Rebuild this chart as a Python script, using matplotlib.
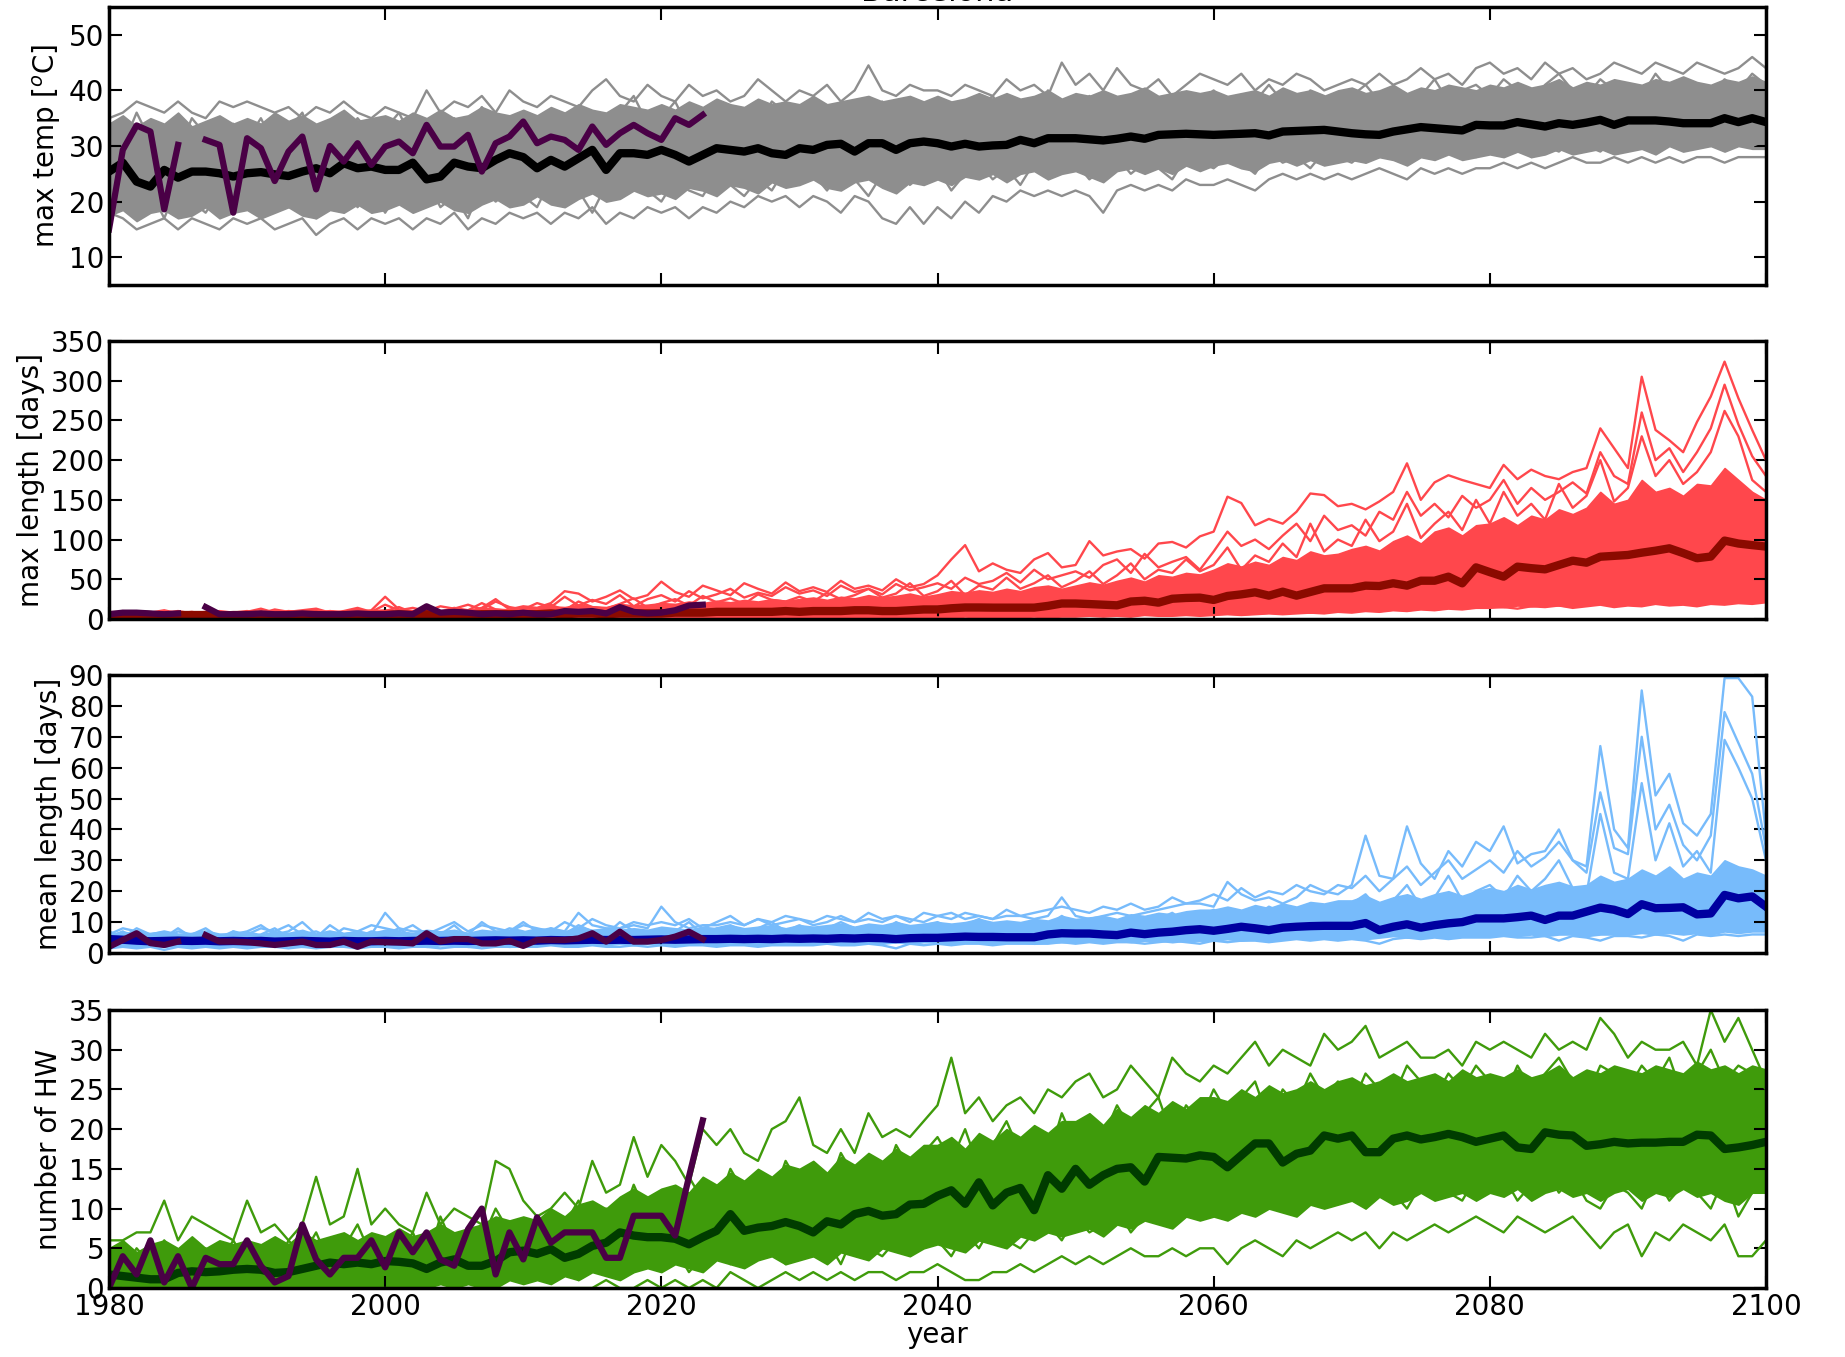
import numpy as np
import matplotlib
matplotlib.use("Agg")
import matplotlib.pyplot as plt

years = np.arange(1980, 2101)
obs_years = np.arange(1980, 2024)
nan = np.nan

# ---- panel 1: max temp ----
tmax_mean = [25.4, 27.0, 23.6, 22.7, 25.7, 24.3, 25.4, 25.4, 25.1, 24.5,
             25.1, 25.3, 24.9, 24.6, 25.4, 26.0, 25.1, 26.9, 26.0, 26.3,
             25.7, 25.7, 27.0, 24.0, 24.5, 27.0, 26.3, 26.0, 27.5, 28.7,
             28.0, 26.0, 27.5, 26.3, 27.8, 29.3, 25.7, 28.7, 28.7, 28.4,
             29.3, 28.4, 27.2, 28.4, 29.6, 29.3, 29.0, 29.6, 28.7, 28.4,
             29.6, 29.3, 30.2, 30.4, 29.0, 30.5, 30.5, 29.3, 30.5, 30.8,
             30.5, 29.9, 30.4, 29.9, 30.1, 30.2, 31.1, 30.5, 31.4, 31.4,
             31.4, 31.2, 31.0, 31.3, 31.7, 31.3, 32.0, 32.1, 32.2, 32.1,
             32.0, 32.1, 32.2, 32.3, 31.9, 32.6, 32.7, 32.8, 32.9, 32.6,
             32.3, 32.1, 32.0, 32.6, 33.0, 33.4, 33.2, 33.0, 32.8, 33.8,
             33.7, 33.7, 34.3, 33.9, 33.5, 34.1, 33.8, 34.2, 34.7, 33.8,
             34.6, 34.6, 34.6, 34.4, 34.1, 34.1, 34.1, 35.0, 34.3, 35.0,
             34.3]
tmax_obs = [15.0, 29.3, 33.7, 32.6, 18.6, 30.2, nan, 31.1, 30.2, 18.0,
            31.4, 29.6, 23.7, 29.0, 31.7, 22.2, 30.0, 27.2, 30.5, 26.6,
            29.9, 30.8, 28.7, 33.8, 29.9, 29.9, 32.0, 25.4, 30.5, 31.7,
            34.4, 30.5, 31.7, 31.1, 29.3, 33.5, 30.2, 32.3, 33.8, 32.3,
            31.1, 35.0, 33.8, 35.6]
tmax_core_lo = [17.5, 18.5, 16.5, 18, 18.5, 17, 17.5, 19, 17, 18,
                18.5, 17, 18, 19, 17.5, 17, 18.5, 18, 19.5, 18,
                18.5, 19.5, 18, 19, 20, 18.5, 18, 19.5, 20.5, 19,
                19.5, 21, 19.5, 19, 20.5, 21.5, 20, 20.5, 22, 21,
                21.5, 20.5, 22.5, 22, 21, 23, 22.5, 21.5, 23.5, 22.5,
                23, 24, 22.5, 22, 23.5, 24, 22.5, 21.5, 23.5, 23,
                24, 23, 24.5, 24, 25, 23.5, 25, 25.5, 24, 25,
                25.5, 24.5, 23.5, 25.5, 26, 25, 26, 25, 26.5, 25.5,
                26.5, 27, 26, 25.5, 27, 27.5, 26.5, 27.5, 26.5, 27,
                27.5, 27, 28, 27.5, 26.5, 28, 27.5, 28.5, 27.5, 28,
                28.5, 28, 29, 28, 28.5, 29.5, 28.5, 29, 29.5, 28.5,
                29, 29.5, 28.5, 30, 29, 29.5, 30, 29, 30, 29.5,
                29.5]
tmax_core_hi = [34, 35.5, 33.5, 35, 34, 36, 33.5, 34.5, 35.5, 34,
                35, 34, 36, 34.5, 35.5, 34, 35, 36.5, 34.5, 35,
                35.5, 34.5, 36, 35, 36.5, 35, 35.5, 37, 36, 35.5,
                36.5, 35.5, 37, 36, 37.5, 36.5, 36, 37.5, 37, 36.5,
                37.5, 36.5, 38, 37, 38.5, 37.5, 37, 38.5, 37.5, 38,
                37.5, 39, 37.5, 38, 38.5, 39, 38, 38.5, 39, 38,
                39, 38, 38.5, 39.5, 38.5, 39.5, 38.5, 39, 40, 38.5,
                39.5, 39, 40, 39, 39.5, 40.5, 39, 39.5, 40, 39.5,
                40, 39, 39.5, 40, 39, 40.5, 39.5, 40, 39, 40,
                40.5, 39.5, 40, 41, 39.5, 40.5, 40, 41, 40.5, 40,
                41, 40.5, 41.5, 40.5, 41, 42, 40.5, 41.5, 41, 42,
                41.5, 41, 42, 41.5, 42.5, 41.5, 41, 42, 41.5, 42.5,
                41.5]
tmax_hi = [35, 36, 38, 37, 36, 38, 36, 35, 38, 37,
           38, 37, 36, 37, 35, 37, 36, 38, 36, 35,
           37, 36, 35, 40, 36, 38, 37, 39, 36, 40,
           38, 37, 39, 38, 37, 40, 42, 39, 38, 41,
           39, 38, 41, 39, 40, 38, 39, 42, 40, 38,
           40, 39, 41, 38, 40, 44.5, 40, 39, 41, 40,
           40, 39, 41, 40, 39, 42, 40, 41, 39, 45,
           41, 43, 40, 44, 41, 40, 42, 39, 41, 43,
           42, 41, 43, 40, 42, 41, 43, 42, 40, 41,
           42, 41, 43, 41, 42, 44, 42, 43, 41, 44,
           45, 43, 44, 42, 45, 43, 44, 42, 43, 45,
           44, 43, 45, 44, 43, 45, 44, 43, 44, 46,
           44]
tmax_lo = [18, 17, 15, 16, 17, 15, 17, 16, 15, 17,
           16, 17, 15, 16, 17, 14, 16, 17, 15, 17,
           16, 17, 15, 17, 16, 18, 15, 17, 16, 18,
           17, 18, 16, 18, 17, 19, 16, 18, 17, 19,
           18, 19, 17, 19, 18, 20, 19, 21, 20, 21,
           19, 21, 20, 18, 21, 20, 17, 16, 19, 16,
           19, 17, 20, 18, 21, 20, 22, 21, 22, 21,
           22, 21, 18, 22, 23, 22, 23, 22, 24, 23,
           23, 24, 23, 22, 24, 25, 24, 25, 24, 25,
           24, 25, 26, 25, 24, 26, 25, 26, 25, 26,
           26, 27, 26, 27, 26, 27, 28, 27, 27, 28,
           27, 28, 27, 28, 27, 28, 28, 27, 28, 28,
           28]
tmax_a = [34, 30, 36, 31, 33, 29, 35, 32, 30, 34,
          31, 35, 30, 33, 36, 30, 34, 31, 35, 32,
          33, 36, 31, 34, 30, 35, 33, 37, 32, 34,
          36, 33, 35, 31, 37, 34, 33, 36, 39, 34,
          35, 38, 33, 36, 34, 37, 35, 33, 38, 36,
          34, 38, 35, 37, 33, 36, 38, 34, 37, 35,
          38, 36, 34, 37, 39, 35, 38, 36, 40, 37,
          36, 39, 37, 35, 38, 40, 37, 39, 36, 38,
          40, 37, 39, 38, 41, 38, 36, 40, 39, 37,
          39, 41, 38, 40, 37, 39, 42, 38, 40, 41,
          39, 42, 40, 38, 41, 43, 40, 39, 42, 40,
          41, 39, 43, 40, 42, 41, 39, 42, 40, 43,
          41]
tmax_b = [20, 24, 19, 22, 17, 23, 20, 18, 22, 19,
          23, 18, 21, 19, 24, 17, 21, 23, 19, 22,
          18, 22, 20, 24, 19, 21, 17, 23, 20, 22,
          21, 19, 24, 20, 22, 18, 23, 21, 25, 22,
          20, 24, 22, 21, 25, 23, 21, 24, 22, 26,
          23, 25, 22, 26, 24, 21, 25, 27, 23, 25,
          26, 22, 25, 27, 24, 26, 23, 27, 25, 26,
          27, 24, 26, 28, 25, 27, 26, 24, 28, 27,
          26, 28, 27, 25, 29, 27, 28, 26, 29, 28,
          27, 29, 28, 30, 27, 29, 28, 30, 29, 28,
          30, 29, 31, 28, 30, 29, 31, 30, 29, 31,
          30, 31, 29, 32, 30, 31, 30, 32, 31, 30,
          31]

# ---- panel 2: max length ----
maxlen_mean = [5, 5, 6, 5, 4, 5, 5, 5, 4, 5,
               5, 5, 4, 5, 5, 5, 4, 5, 5, 5,
               5, 6, 5, 6, 5, 6, 5, 6, 6, 6,
               6, 6, 7, 6, 7, 7, 6, 7, 7, 7,
               7, 8, 8, 8, 9, 9, 9, 9, 9, 10,
               9, 10, 10, 10, 11, 11, 10, 10, 11, 12,
               12, 13.5, 14.5, 14.5, 14.3, 14.3, 14.3, 14.3, 16.5, 19.5,
               19.5, 18.8, 18.0, 17.2, 22, 23, 20.6, 25.5, 26.5, 26.9,
               24, 29, 31, 33.6, 29.4, 34.4, 29.4, 34, 38.6, 38.6,
               38.6, 42, 41.5, 45, 42, 48.2, 48.2, 53.3, 44.9, 65,
               59, 53.3, 65.9, 64, 62.5, 68, 73.4, 70.9, 78.4, 79.5,
               80.6, 83.5, 86, 89, 83, 76.5, 78.6, 98.7, 95, 93,
               91.2]
maxlen_obs = [6, 8, 8, 7, 6, 7, nan, 15, 6, 6,
              6, 7, 6, 6, 7, 6, 6, 6, 7, 6,
              6, 7, 6, 16, 8, 9, 8, 6, 7, 6,
              8, 6, 6, 10, 9, 10, 7, 15, 9, 7,
              8, 11, 17, 18]
maxlen_core_lo = [1, 1, 1, 1, 1, 1, 1, 1, 1, 1,
                  1, 1, 1, 1, 1, 1, 1, 1, 1, 1,
                  1, 1, 1, 1, 1, 1, 1, 1, 1, 1,
                  1, 1, 2, 1, 2, 1, 2, 2, 1, 2,
                  2, 2, 3, 2, 2, 3, 2, 3, 2, 3,
                  3, 2, 3, 3, 2, 3, 3, 2, 3, 3,
                  3, 3, 4, 3, 4, 3, 4, 4, 3, 4,
                  4, 5, 4, 5, 4, 6, 5, 5, 6, 5,
                  6, 7, 6, 7, 8, 7, 9, 8, 9, 10,
                  10, 11, 10, 12, 11, 13, 12, 14, 13, 15,
                  16, 15, 17, 16, 18, 17, 16, 18, 19, 17,
                  19, 18, 21, 19, 20, 18, 21, 20, 22, 21,
                  23]
maxlen_core_hi = [8, 9, 7, 9, 8, 10, 8, 9, 7, 9,
                  9, 11, 8, 10, 9, 8, 11, 9, 10, 11,
                  12, 10, 11, 13, 10, 12, 11, 14, 13, 12,
                  14, 13, 16, 15, 18, 16, 15, 19, 17, 18,
                  20, 19, 22, 20, 23, 21, 24, 22, 25, 23,
                  25, 27, 24, 28, 26, 30, 27, 29, 32, 28,
                  31, 35, 33, 36, 34, 38, 35, 40, 42, 38,
                  42, 46, 43, 48, 52, 47, 55, 53, 58, 56,
                  62, 70, 66, 72, 68, 78, 74, 85, 80, 82,
                  88, 92, 86, 98, 105, 95, 110, 115, 105, 118,
                  120, 128, 118, 130, 125, 138, 132, 140, 160, 145,
                  150, 175, 160, 165, 155, 170, 168, 190, 175, 160,
                  150]
maxlen_hi = [8, 7, 9, 7, 8, 10, 7, 9, 8, 7,
             9, 13, 8, 10, 9, 8, 10, 8, 9, 11,
             28, 12, 10, 11, 9, 12, 10, 14, 25, 12,
             16, 14, 20, 35, 32, 22, 28, 36, 25, 30,
             47, 34, 28, 42, 36, 30, 45, 38, 32, 46,
             35, 40, 34, 48, 38, 42, 36, 50, 40, 44,
             55, 75, 93, 60, 70, 62, 58, 75, 83, 65,
             68, 98, 80, 85, 88, 76, 95, 97, 90, 104,
             110, 154, 146, 118, 126, 120, 135, 158, 156, 142,
             145, 138, 148, 160, 196, 150, 172, 181, 175, 170,
             165, 194, 176, 188, 180, 176, 185, 190, 240, 215,
             190, 305, 238, 225, 210, 248, 280, 324, 278, 238,
             200]
maxlen_lo = [0, 1, 0, 0, 1, 0, 0, 1, 0, 0,
             1, 0, 0, 1, 0, 0, 1, 0, 0, 1,
             0, 1, 0, 1, 0, 1, 1, 0, 1, 1,
             1, 0, 1, 1, 2, 1, 1, 2, 1, 1,
             2, 1, 2, 1, 2, 2, 1, 2, 2, 1,
             2, 2, 1, 2, 2, 3, 2, 2, 3, 2,
             2, 1, 3, 2, 2, 3, 2, 3, 2, 3,
             3, 4, 3, 4, 3, 5, 4, 4, 5, 4,
             5, 6, 5, 6, 7, 6, 7, 8, 7, 9,
             8, 10, 9, 11, 10, 12, 11, 13, 12, 14,
             14, 15, 13, 16, 15, 17, 14, 16, 18, 15,
             17, 16, 19, 17, 18, 16, 19, 18, 20, 19,
             21]
maxlen_a = [6, 9, 5, 7, 10, 6, 8, 5, 9, 7,
            8, 6, 10, 7, 9, 11, 6, 8, 12, 7,
            10, 15, 8, 12, 9, 14, 11, 20, 12, 10,
            14, 12, 18, 11, 22, 15, 13, 19, 26, 14,
            20, 25, 17, 29, 21, 26, 19, 31, 24, 22,
            28, 22, 33, 25, 30, 38, 27, 32, 45, 29,
            35, 48, 30, 42, 37, 52, 38, 45, 55, 40,
            48, 60, 44, 55, 70, 50, 62, 58, 75, 60,
            68, 90, 62, 80, 72, 95, 78, 120, 85, 100,
            92, 125, 98, 110, 145, 102, 120, 135, 112, 150,
            120, 160, 130, 145, 125, 170, 140, 155, 200, 148,
            165, 230, 180, 200, 170, 185, 210, 262, 230, 175,
            160]
maxlen_b = [6, 10, 5, 8, 11, 7, 9, 6, 10, 8,
            10, 7, 12, 9, 11, 13, 8, 10, 14, 9,
            18, 11, 14, 10, 16, 13, 18, 12, 22, 15,
            12, 20, 15, 28, 17, 24, 19, 30, 16, 25,
            30, 22, 35, 26, 31, 38, 27, 33, 29, 40,
            32, 36, 29, 42, 34, 38, 31, 44, 36, 40,
            45, 38, 52, 44, 48, 58, 46, 62, 50, 55,
            60, 52, 68, 75, 58, 82, 65, 72, 78, 62,
            85, 110, 92, 100, 88, 105, 120, 98, 130, 112,
            118, 105, 135, 125, 160, 130, 145, 128, 155, 140,
            150, 175, 145, 165, 150, 160, 172, 158, 210, 180,
            170, 260, 200, 215, 185, 210, 240, 295, 245, 205,
            180]

# ---- panel 3: mean length ----
meanlen_mean = [4.5, 4.3, 4.0, 3.8, 3.9, 4.0, 3.9, 4.0, 3.8, 3.9,
                3.8, 3.9, 3.7, 3.8, 3.9, 3.8, 3.7, 3.9, 3.8, 3.8,
                3.9, 3.8, 3.9, 4.0, 3.9, 4.0, 3.9, 4.0, 4.1, 4.0,
                4.1, 4.0, 4.2, 4.1, 4.2, 4.3, 4.2, 4.3, 4.2, 4.3,
                4.4, 4.3, 4.4, 4.5, 4.5, 4.6, 4.5, 4.6, 4.5, 4.7,
                4.6, 4.7, 4.6, 4.8, 4.7, 4.9, 4.8, 4.5, 4.8, 4.9,
                4.9, 5.1, 5.3, 5.2, 5.2, 5.1, 5.1, 5.1, 6.0, 6.4,
                6.3, 6.3, 6.0, 5.8, 6.6, 6.1, 6.6, 6.9, 7.4, 7.7,
                7.2, 7.8, 8.5, 8.0, 7.4, 8.2, 8.5, 8.7, 8.8, 8.8,
                8.8, 9.7, 7.4, 8.5, 9.3, 8.2, 9.0, 9.6, 10.0, 11.2,
                11.2, 11.2, 11.6, 12.1, 10.7, 12.1, 12.1, 13.4, 14.7, 14.0,
                12.6, 15.8, 14.5, 14.6, 14.8, 12.5, 12.8, 18.8, 17.7, 18.3,
                15.0]
meanlen_obs = [2.0, 4.2, 6.4, 3.2, 2.6, 3.7, nan, 5.8, 3.7, 3.7,
               3.5, 3.1, 2.6, 3.1, 3.7, 2.6, 2.6, 3.7, 2.0, 3.7,
               3.5, 3.4, 3.1, 6.4, 3.7, 4.5, 4.5, 3.1, 3.1, 3.9,
               2.3, 4.2, 4.2, 4.2, 4.7, 6.4, 3.7, 6.9, 3.7, 3.7,
               4.2, 5.3, 6.9, 4.5]
meanlen_core_lo = [2, 2.5, 2, 2.5, 2, 2.5, 2, 2.5, 2, 2.5,
                   2, 2.5, 2, 2.5, 2, 2.5, 2, 2.5, 2, 2.5,
                   2.5, 2, 2.5, 2, 2.5, 2.5, 2, 2.5, 2.5, 2,
                   2.5, 2.5, 3, 2.5, 2.5, 3, 2.5, 3, 2.5, 3,
                   3, 2.5, 3, 3, 2.5, 3, 3, 2.5, 3, 3,
                   3, 3, 3.5, 3, 3, 3.5, 3, 3.5, 3, 3.5,
                   3.5, 3, 3.5, 3.5, 3, 3.5, 3.5, 3, 3.5, 3.5,
                   3.5, 4, 3.5, 4, 3.5, 4, 4, 3.5, 4, 4,
                   4, 4.5, 4, 4.5, 4, 4.5, 5, 4.5, 5, 4.5,
                   5, 4.5, 5, 5.5, 5, 5, 5.5, 5, 5.5, 5.5,
                   5.5, 6, 5.5, 6, 5.5, 6, 6, 5.5, 6, 6,
                   6, 6.5, 6, 6.5, 6, 6.5, 6, 7, 6.5, 7,
                   7]
meanlen_core_hi = [6, 7, 6, 6.5, 7, 6, 6.5, 7, 6, 6.5,
                   7, 6, 7, 6.5, 7.5, 6, 7, 6.5, 7, 6.5,
                   7.5, 7, 6.5, 7.5, 7, 7.5, 6.5, 7.5, 7, 7.5,
                   7, 8, 7.5, 7, 8.5, 7.5, 8, 7.5, 8, 7.5,
                   8.5, 8, 7.5, 8.5, 8, 9, 8, 8.5, 9, 8,
                   9, 8.5, 9, 9.5, 8.5, 9.5, 9, 10, 9, 9.5,
                   10, 9.5, 10, 11, 10, 10.5, 10, 11, 10.5, 12,
                   11, 11.5, 12, 11, 12.5, 12, 13, 12.5, 13.5, 14,
                   14, 15, 14, 15.5, 14.5, 16, 15, 16.5, 16, 17,
                   17, 18.5, 16.5, 18, 19, 17.5, 19, 20, 18.5, 20,
                   21, 20, 22, 20.5, 22, 23, 21.5, 22, 25, 23,
                   24, 27, 25, 28, 24, 26, 25, 30, 28, 27,
                   25]
meanlen_hi = [6, 8, 7, 6, 7, 6, 6, 7, 6, 6,
              7, 9, 6, 7, 10, 6, 7, 6, 7, 6,
              13, 8, 7, 7, 6, 7, 6, 10, 7, 7,
              10, 7, 8, 7, 13, 9, 8, 8, 9, 8,
              15, 10, 8, 9, 9, 10, 9, 11, 9, 10,
              11, 9, 10, 12, 10, 11, 10, 12, 11, 10,
              12, 13, 11, 12, 11, 12, 12, 11, 12, 18,
              12, 11, 12, 13, 12, 13, 14, 15, 16, 16,
              15, 23, 19, 17, 18, 16, 18, 22, 20, 19,
              22, 38, 25, 24, 41, 29, 24, 33, 28, 36,
              33, 41, 29, 32, 33, 40, 30, 28, 67, 40,
              34, 85, 51, 58, 42, 38, 45, 89, 89, 83,
              38]
meanlen_lo = [1.5, 2, 1.5, 2, 1, 2, 1.5, 2, 1.5, 2,
              1.5, 2, 2, 1.5, 2, 1.5, 2, 2, 1.5, 2,
              2, 1.5, 2, 2, 1.5, 2, 2, 1.5, 2, 2,
              2, 2, 2.5, 2, 2, 2.5, 2, 2, 2.5, 2,
              2.5, 2, 2.5, 2.5, 2, 2.5, 2.5, 2, 2.5, 2.5,
              2.5, 2.5, 3, 2.5, 2.5, 3, 2.5, 1.5, 3, 2.5,
              3, 2.5, 3, 3, 2.5, 3, 3, 3, 3, 3.5,
              3, 3.5, 3, 3.5, 3.5, 3, 3.5, 4, 3.5, 3,
              4, 3.5, 4, 4, 3.5, 4, 4.5, 4, 4.5, 4,
              4.5, 4, 3, 4.5, 5, 4.5, 5, 4.5, 5, 5,
              5, 5.5, 5, 5, 5.5, 4, 5.5, 5, 4, 5.5,
              5.5, 5, 6, 5.5, 4, 6, 5.5, 6, 5.5, 6,
              6]
meanlen_a = [5, 7, 4, 6, 5, 8, 5, 6, 4, 7,
             5, 6, 8, 5, 7, 5, 9, 6, 5, 7,
             6, 8, 5, 7, 6, 9, 5, 7, 6, 8,
             7, 5, 8, 6, 9, 7, 6, 10, 7, 6,
             8, 7, 10, 6, 8, 9, 7, 8, 10, 7,
             9, 7, 8, 10, 8, 9, 7, 10, 8, 9,
             10, 8, 9, 11, 9, 10, 8, 10, 9, 12,
             9, 11, 10, 9, 12, 10, 11, 13, 10, 12,
             14, 11, 13, 12, 15, 13, 12, 16, 14, 13,
             16, 19, 14, 17, 22, 15, 18, 25, 17, 20,
             22, 18, 25, 20, 24, 30, 21, 19, 45, 26,
             24, 55, 30, 42, 28, 33, 26, 69, 60, 50,
             30]
meanlen_b = [7, 5, 8, 6, 5, 7, 6, 8, 5, 7,
             6, 8, 7, 9, 6, 7, 5, 8, 7, 9,
             8, 7, 9, 6, 8, 10, 7, 9, 8, 7,
             9, 8, 7, 10, 8, 11, 9, 8, 10, 9,
             10, 9, 11, 8, 10, 12, 9, 11, 10, 12,
             11, 10, 12, 11, 10, 13, 11, 12, 10, 13,
             12, 11, 13, 12, 11, 14, 12, 13, 14, 15,
             14, 13, 15, 14, 16, 14, 15, 18, 16, 17,
             19, 17, 21, 18, 20, 19, 22, 20, 19, 22,
             21, 25, 20, 24, 28, 22, 26, 30, 24, 27,
             30, 26, 33, 28, 31, 36, 30, 26, 52, 34,
             32, 70, 40, 48, 35, 30, 38, 78, 68, 58,
             34]

# ---- panel 4: number of heat waves ----
nhw_mean = [1.7, 1.5, 1.3, 1.1, 1.1, 1.9, 2.1, 2.0, 2.1, 2.3,
            2.4, 2.3, 1.9, 2.0, 2.4, 2.8, 3.2, 3.0, 3.2, 3.0,
            3.4, 3.3, 3.1, 2.4, 3.2, 3.6, 2.8, 2.8, 3.4, 4.5,
            4.7, 4.3, 4.9, 3.8, 4.3, 5.3, 5.7, 7.0, 6.6, 6.4,
            6.4, 6.2, 5.5, 6.4, 7.2, 9.3, 7.2, 7.6, 7.8, 8.3,
            7.8, 7.0, 8.4, 8.0, 9.3, 9.7, 9.1, 9.3, 10.5, 10.6,
            11.6, 12.3, 10.6, 13.3, 10.4, 12.0, 12.6, 9.8, 14.2, 12.5,
            15.0, 13.0, 14.2, 15.0, 15.2, 13.4, 16.5, 16.4, 16.3, 16.7,
            16.5, 15.2, 16.7, 18.2, 18.2, 15.8, 16.9, 17.3, 19.2, 18.8,
            19.2, 17.1, 17.1, 18.8, 19.2, 18.7, 19.0, 19.4, 19.0, 18.4,
            18.8, 19.2, 17.7, 17.5, 19.6, 19.3, 19.2, 17.9, 18.1, 18.4,
            18.2, 18.3, 18.3, 18.4, 18.4, 19.3, 19.2, 17.5, 17.7, 18.0,
            18.4]
nhw_obs = [0, 4.0, 1.7, 6.0, 0.7, 4.0, 0, 3.8, 3.0, 3.0,
           6.0, 2.8, 0.7, 1.5, 8.0, 3.6, 1.7, 3.8, 3.8, 6.0,
           2.6, 7.0, 4.5, 7.0, 3.6, 2.8, 7.4, 10.0, 1.7, 7.0,
           3.6, 8.9, 5.7, 7.0, 7.0, 7.0, 3.8, 3.8, 9.1, 9.1,
           9.1, 6.6, 14.0, 21.1]
nhw_core_lo = [0, 0, 0, 0, 0, 0, 0, 0, 0, 0,
               0, 0, 0, 0, 0, 0, 0, 0, 0, 0,
               0, 0, 0, 0, 0.5, 0, 0.5, 0, 0, 1,
               0.5, 1, 0.5, 1.5, 1, 2, 1.5, 1, 2, 2.5,
               2, 3, 2.5, 2, 3.5, 3, 2.5, 3.5, 4, 3,
               3.5, 4, 3, 4.5, 4, 3.5, 5, 4.5, 4, 5,
               5.5, 5, 4.5, 6, 5.5, 5, 6.5, 6, 7, 6.5,
               7, 7.5, 6.5, 8, 7.5, 8.5, 8, 7.5, 9, 8.5,
               9, 8.5, 9.5, 9, 10, 9.5, 9, 10.5, 10, 10.5,
               11, 10, 11.5, 10.5, 11, 12, 11, 11.5, 12, 11,
               12, 11.5, 12.5, 11, 12, 12.5, 11.5, 12, 11, 12,
               12.5, 11, 12, 11.5, 12.5, 11.5, 12, 11, 10.5, 12,
               12]
nhw_core_hi = [5, 6, 4.5, 5.5, 6, 5, 6.5, 5, 6, 5.5,
               6, 5.5, 6.5, 5.5, 7, 6, 6.5, 7, 6, 7,
               6.5, 7.5, 6.5, 7, 8, 7, 7.5, 8, 9, 8.5,
               9, 8.5, 10, 9, 10.5, 11, 10, 11.5, 12.5, 11.5,
               12.5, 13, 12, 14, 13, 14.5, 13.5, 15, 14, 15.5,
               15, 16, 14.5, 16.5, 15.5, 17, 16, 17.5, 16.5, 18,
               18, 19, 17.5, 19.5, 18.5, 20, 19, 20.5, 19.5, 21,
               21, 22, 20.5, 22.5, 21.5, 23, 22, 23.5, 22.5, 24,
               24, 23.5, 25, 24, 25.5, 24.5, 25, 26, 25, 26,
               26.5, 25.5, 26, 27, 26, 26.5, 27, 26, 27.5, 26.5,
               27, 26.5, 27.5, 26.5, 27, 28, 26.5, 27.5, 27, 28,
               27.5, 27, 28, 27.5, 27, 28.5, 27.5, 28, 27, 28,
               27.5]
nhw_hi = [6, 6, 7, 7, 11, 6, 9, 8, 7, 6,
          11, 7, 8, 6, 8, 14, 8, 9, 15, 8,
          10, 8, 7, 12, 8, 10, 9, 8, 16, 15,
          11, 9, 10, 12, 10, 16, 12, 13, 19, 14,
          18, 16, 13, 20, 18, 20, 17, 16, 20, 21,
          24, 18, 17, 20, 17, 22, 19, 20, 19, 21,
          23, 29, 22, 24, 21, 23, 24, 22, 25, 24,
          26, 27, 24, 25, 28, 26, 24, 29, 27, 26,
          28, 27, 29, 31, 28, 30, 29, 28, 32, 30,
          31, 33, 29, 30, 31, 29, 29, 30, 28, 31,
          30, 31, 30, 29, 32, 30, 31, 30, 34, 32,
          29, 31, 30, 30, 31, 28, 35, 31, 34, 30,
          26]
nhw_lo = [0, 0, 0, 0, 0, 0, 0, 0, 0, 0,
          0, 0, 0, 0, 0, 0, 0, 0, 0, 0,
          0, 0, 0, 0, 0, 0, 0, 0, 0, 0,
          0, 0, 0, 0, 0, 0, 1, 0, 0, 1,
          0, 1, 0, 1, 0, 2, 1, 0, 1, 2,
          1, 2, 1, 2, 1, 2, 2, 1, 2, 2,
          3, 2, 1, 1, 2, 2, 3, 2, 3, 4,
          3, 4, 3, 4, 5, 4, 4, 5, 4, 5,
          5, 3, 5, 6, 5, 4, 6, 5, 6, 7,
          6, 7, 5, 7, 6, 7, 8, 7, 8, 9,
          8, 7, 9, 8, 7, 8, 9, 7, 5, 7,
          8, 4, 7, 6, 8, 7, 6, 8, 4, 4,
          6]
nhw_a = [4, 2, 5, 3, 6, 2, 4, 5, 3, 6,
         3, 5, 2, 6, 4, 7, 3, 5, 8, 4,
         6, 4, 7, 3, 9, 5, 4, 6, 10, 7,
         5, 9, 6, 8, 11, 7, 10, 8, 13, 9,
         12, 9, 14, 11, 10, 15, 12, 14, 11, 16,
         13, 15, 12, 17, 14, 16, 13, 18, 15, 17,
         19, 16, 20, 15, 18, 21, 17, 19, 16, 22,
         18, 21, 19, 23, 20, 22, 24, 19, 23, 21,
         25, 22, 24, 26, 21, 25, 23, 27, 24, 26,
         23, 27, 25, 24, 28, 26, 24, 27, 25, 28,
         26, 24, 28, 25, 27, 29, 26, 24, 28, 27,
         25, 28, 26, 29, 24, 27, 30, 26, 28, 27,
         25]
nhw_b = [1, 3, 0, 2, 1, 3, 1, 2, 0, 2,
         1, 2, 3, 1, 2, 1, 3, 2, 1, 3,
         2, 1, 3, 2, 1, 3, 2, 1, 2, 3,
         2, 4, 2, 3, 1, 4, 3, 5, 2, 4,
         3, 5, 2, 4, 6, 3, 5, 4, 6, 3,
         5, 4, 6, 3, 7, 5, 4, 6, 5, 7,
         6, 4, 7, 5, 8, 6, 5, 7, 8, 6,
         9, 7, 8, 10, 7, 9, 11, 8, 10, 9,
         11, 9, 12, 10, 13, 11, 10, 12, 14, 11,
         13, 11, 14, 12, 10, 13, 15, 12, 11, 14,
         12, 14, 11, 13, 15, 12, 14, 11, 10, 13,
         12, 10, 14, 11, 13, 12, 10, 14, 9, 12,
         13]

obs_color = '#4a0046'
panels = [
    dict(mean=tmax_mean, obs=tmax_obs, lo=tmax_core_lo, hi=tmax_core_hi,
         members=[tmax_hi, tmax_lo, tmax_a, tmax_b],
         ens_color='#8e8e8e', mean_color='black',
         ylabel='max temp [$^o$C]', ylim=(5, 55), yticks=np.arange(10, 51, 10)),
    dict(mean=maxlen_mean, obs=maxlen_obs, lo=maxlen_core_lo, hi=maxlen_core_hi,
         members=[maxlen_hi, maxlen_lo, maxlen_a, maxlen_b],
         ens_color='#ff474c', mean_color='#8b0a00',
         ylabel='max length [days]', ylim=(0, 350), yticks=np.arange(0, 351, 50)),
    dict(mean=meanlen_mean, obs=meanlen_obs, lo=meanlen_core_lo, hi=meanlen_core_hi,
         members=[meanlen_hi, meanlen_lo, meanlen_a, meanlen_b],
         ens_color='#77bbfb', mean_color='#0000a0',
         ylabel='mean length [days]', ylim=(0, 90), yticks=np.arange(0, 91, 10)),
    dict(mean=nhw_mean, obs=nhw_obs, lo=nhw_core_lo, hi=nhw_core_hi,
         members=[nhw_hi, nhw_lo, nhw_a, nhw_b],
         ens_color='#3f9b0b', mean_color='#003c00',
         ylabel='number of HW', ylim=(0, 35), yticks=np.arange(0, 36, 5)),
]

plt.rcParams['font.family'] = 'DejaVu Sans'
fig = plt.figure(figsize=(18.45, 13.57), dpi=100)

left, width = 109 / 1845, (1766 - 109) / 1845
tops = [7, 341, 675, 1010]
h = 278
axes = []
for i, p in enumerate(panels):
    bottom = 1 - (tops[i] + h) / 1357
    ax = fig.add_axes([left, bottom, width, h / 1357])
    axes.append(ax)

    # dense core of the ensemble, then a few single members around it
    ax.fill_between(years, p['lo'], p['hi'], color=p['ens_color'], lw=1.2,
                    edgecolor=p['ens_color'])
    for m in p['members']:
        ax.plot(years, m, color=p['ens_color'], lw=1.7)
    ax.plot(years, p['mean'], color=p['mean_color'], lw=6)
    ax.plot(obs_years, p['obs'], color=obs_color, lw=4.5)

    ax.set_xlim(1980, 2100)
    ax.set_ylim(*p['ylim'])
    ax.set_yticks(p['yticks'])
    ax.set_xticks(np.arange(1980, 2101, 20))
    ax.set_ylabel(p['ylabel'], fontsize=20, labelpad=4)
    ax.tick_params(direction='in', top=True, right=True, length=9, width=1.5,
                   labelsize=20)
    for s in ax.spines.values():
        s.set_linewidth(2.5)
    if i < 3:
        ax.tick_params(labelbottom=False)

axes[-1].set_xlabel('year', fontsize=20, labelpad=0)
axes[0].text(0.5, 1.0, 'Barcelona', transform=axes[0].transAxes, ha='center',
             va='bottom', fontsize=22)

fig.savefig('out.png', dpi=100)
